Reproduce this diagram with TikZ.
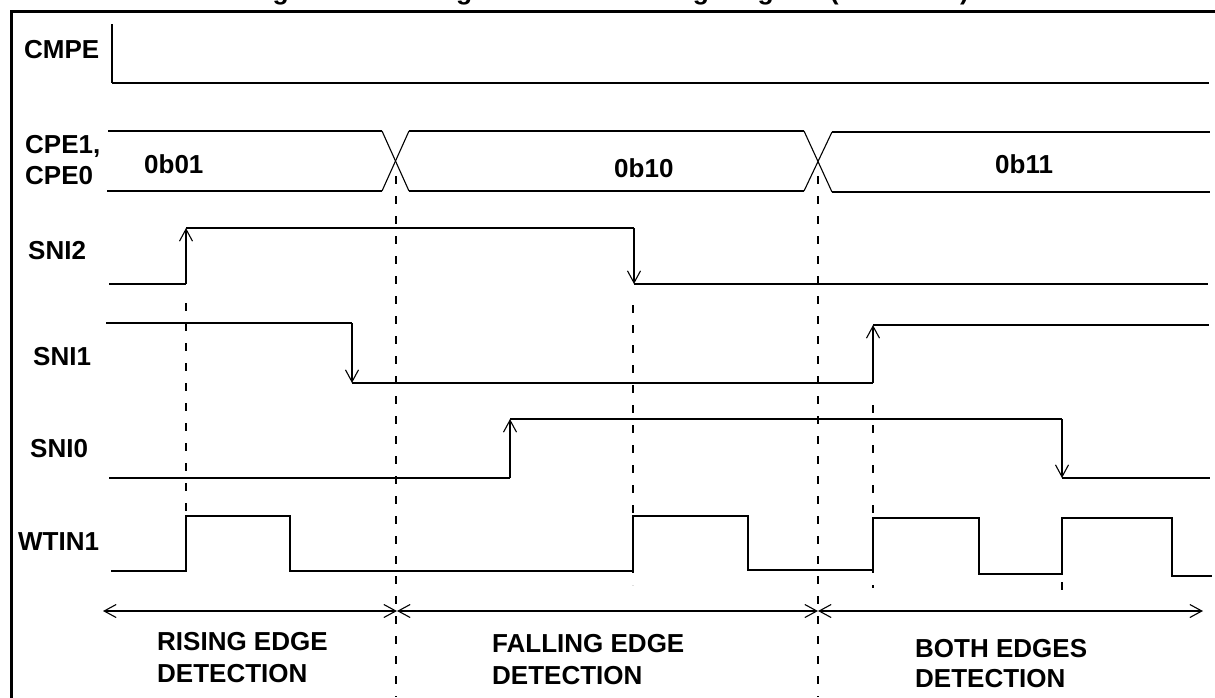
\documentclass[tikz,border=0pt]{standalone}
\usepackage{fontspec}
\setmainfont{Liberation Sans}
\usetikzlibrary{arrows.meta}
\tikzset{
  sig/.style={line width=2.2pt, line join=miter},
  thinl/.style={line width=1.1pt},
  barb/.tip={Straight Barb[length=12pt,width=13pt,line width=1.1pt]},
  edgearr/.style={line width=1.1pt, -barb},
  guide/.style={line width=2pt, dash pattern=on 8pt off 12pt},
  spanarr/.style={line width=1.8pt, barb-barb},
  lbl/.style={anchor=base west, inner sep=0pt, font=\fontsize{26}{30}\selectfont\bfseries},
  ttl/.style={anchor=base, inner sep=0pt, font=\fontsize{26.5}{30}\selectfont\bfseries},
  frame/.style={line width=3pt, line join=miter}
}
\begin{document}
\begin{tikzpicture}[x=1pt,y=-1pt]
\useasboundingbox (0,0) rectangle (1215,697);
% title (cut off at the top, as in the reference)
\begin{scope}
\clip (0,0) rectangle (1215,697);
\node[ttl] (title) at (609,-1) {Figure 10-10. Edge Detection Timing Diagram (CMPE = 0)};
\end{scope}
% frame
\draw[frame] (1217,11) -- (11.5,11) -- (11.5,700);
% labels
\node[lbl] (lcmpe) at (24,58) {CMPE};
\node[lbl] (lcpe1) at (25,153) {CPE1,};
\node[lbl] (lcpe0) at (25,184) {CPE0};
\node[lbl] (lsni2) at (28,259) {SNI2};
\node[lbl] (lsni1) at (33,365) {SNI1};
\node[lbl] (lsni0) at (30,457) {SNI0};
\node[lbl] (lwtin) at (18,550) {WTIN1};
\node[lbl] (v01) at (144,173) {0b01};
\node[lbl] (v10) at (614,177) {0b10};
\node[lbl] (v11) at (995,173) {0b11};
\node[lbl] (rise1) at (157,650) {RISING EDGE};
\node[lbl] (rise2) at (157,682) {DETECTION};
\node[lbl] (fall1) at (492,652) {FALLING EDGE};
\node[lbl] (fall2) at (492,684) {DETECTION};
\node[lbl] (both1) at (915,657) {BOTH EDGES};
\node[lbl] (both2) at (915,687) {DETECTION};
% CMPE
\draw[thinl] (112,24) -- (112,83);
\draw[sig] (112,83) -- (1209,83);
% CPE bus
\draw[sig] (108,131) -- (382,131);
\draw[sig] (107,191) -- (382,191);
\draw[thinl] (382,131) -- (409,191);
\draw[thinl] (382,191) -- (409,131);
\draw[sig] (409,131) -- (804,131);
\draw[sig] (409,191) -- (804,191);
\draw[thinl] (804,131) -- (832,192);
\draw[thinl] (804,191) -- (832,132);
\draw[sig] (832,132) -- (1210,132);
\draw[sig] (832,192) -- (1210,192);
% dashed guides
\draw[guide] (186,303) -- (186,581);
\draw[guide] (396,176) -- (396,697);
\draw[guide] (633,305) -- (633,585);
\draw[guide] (818,176) -- (818,697);
\draw[guide] (873,405) -- (873,588);
\draw[guide] (1062,522) -- (1062,592);
% SNI2
\draw[sig] (109,284) -- (186,284);
\draw[edgearr] (186,284) -- (186,228);
\draw[sig] (186,228) -- (634,228);
\draw[edgearr] (634,228) -- (634,284);
\draw[sig] (634,284) -- (1208,284);
% SNI1
\draw[sig] (106,323) -- (352,323);
\draw[edgearr] (352,323) -- (352,383);
\draw[sig] (352,383) -- (873,383);
\draw[edgearr] (873,383) -- (873,325);
\draw[sig] (873,325) -- (1209,325);
% SNI0
\draw[sig] (109,478) -- (510,478);
\draw[edgearr] (510,478) -- (510,419);
\draw[sig] (510,419) -- (1062,419);
\draw[edgearr] (1062,419) -- (1062,478);
\draw[sig] (1062,478) -- (1210,478);
% WTIN1
\draw[sig] (111,571) -- (186,571) -- (186,516) -- (290,516) -- (290,571)
  -- (633,571) -- (633,516) -- (748,516) -- (748,570) -- (873,570)
  -- (873,518) -- (979,518) -- (979,574) -- (1062,574) -- (1062,518)
  -- (1172,518) -- (1172,576) -- (1212,576);
% detection spans
\coordinate (sL) at (103,611);
\coordinate (s1) at (397,611);
\coordinate (s2) at (818,611);
\coordinate (sR) at (1203,611);
\draw[spanarr] (sL) -- (s1);
\draw[spanarr] (s1) -- (s2);
\draw[spanarr] (s2) -- (sR);
\end{tikzpicture}
\end{document}
